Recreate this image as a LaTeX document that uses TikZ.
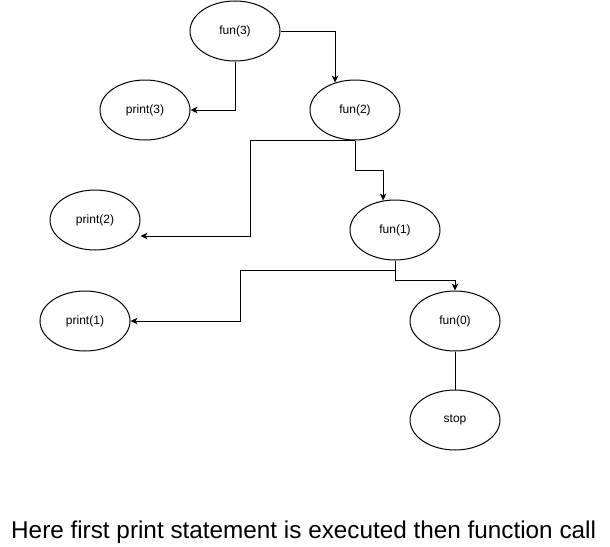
\documentclass[tikz,border=0pt]{standalone}
\usepackage{fontspec}
\setmainfont{Liberation Sans}
\usetikzlibrary{shapes.geometric,arrows.meta,calc}
\begin{document}
\begin{tikzpicture}[x=1pt,y=-1pt,
  oval/.style={draw,ellipse,line width=1pt,minimum width=90pt,minimum height=60pt,inner sep=0pt,font=\fontsize{12}{14}\selectfont},
  link/.style={line width=1pt},
  arr/.style={link,-{Stealth[length=7pt,width=6.5pt,inset=2pt]}}]
\useasboundingbox (0,0) rectangle (610,546);
\node[oval] (f3) at (235,31) {fun(3)};
\node[oval] (p3) at (145,110) {print(3)};
\node[oval] (f2) at (355,110) {fun(2)};
\node[oval] (p2) at (95,220) {print(2)};
\node[oval] (f1) at (395,230) {fun(1)};
\node[oval] (p1) at (85,321) {print(1)};
\node[oval] (f0) at (455,321) {fun(0)};
\node[oval] (st) at (455,420) {stop};
\coordinate (c2) at (0,236);
\draw[arr] (f3.east) -| (f2.126.6);
\draw[arr] (f3.south) |- (p3.east);
\draw[arr] (f2.south) -- ++(0,30) -| (f1.112.5);
\draw[arr] (f2.south) -| (250,236) -- (p2.east |- c2);
\draw[arr] (f1.south) -- ++(0,10) -| ($(p1.east)+(110,0)$) -- (p1.east);
\draw[arr] (f1.south) -- ++(0,20) -| (f0.north);
\draw[link] (f0.south) -- (st.north);
\node[anchor=base west,inner sep=0pt,font=\fontsize{24.3}{28}\selectfont] (cap) at (11,538) {Here first print statement is executed then function call};
\end{tikzpicture}
\end{document}
